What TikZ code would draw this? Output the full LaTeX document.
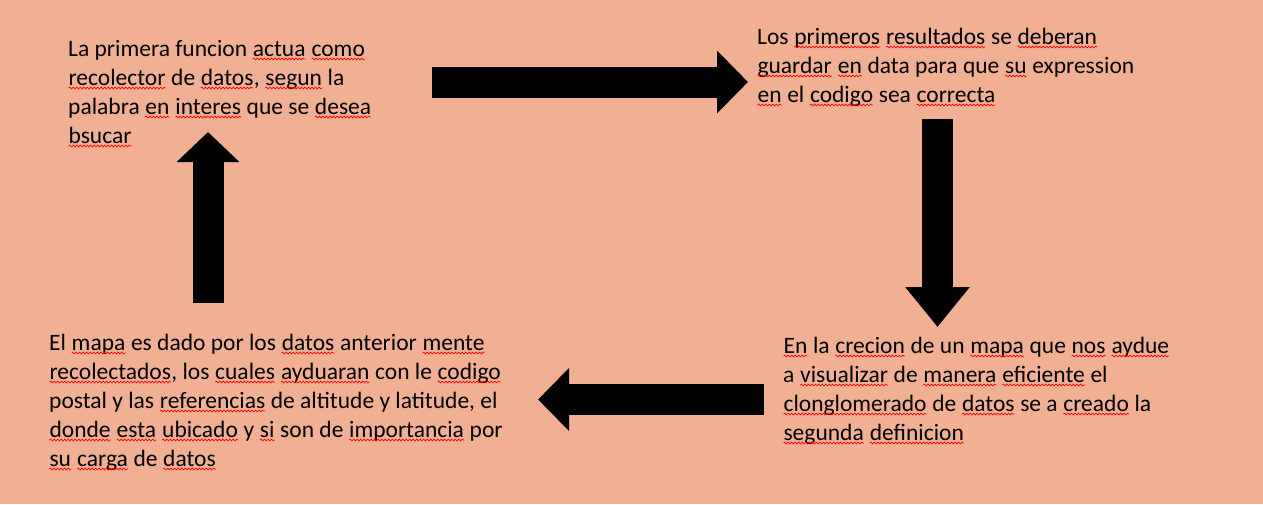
\documentclass[tikz,border=0pt]{standalone}
\usepackage{fontspec}
\setmainfont{Carlito}
\usetikzlibrary{arrows.meta,decorations.pathmorphing}
\definecolor{salmon}{RGB}{241,176,148}
% palabra marcada por el corrector
\newcommand\spellw[1]{\tikz[baseline=(w.base)]{\node[inner sep=0pt,outer sep=0pt] (w) {#1};
\draw[red,line width=0.7pt,decorate,decoration={snake,amplitude=0.9pt,segment length=3.5pt}] ([yshift=-3pt]w.base west) -- ([yshift=-3pt]w.base east);}}

\begin{document}
\begin{tikzpicture}[x=1pt,y=-1pt,every text node part/.style={align=left},
textblock/.style={anchor=base west,inner sep=0pt,font=\fontsize{23.5}{29}\selectfont},
blockarrow/.style={line width=31pt,-{Triangle[length=31pt,width=61pt]}}]
\useasboundingbox (0,0) rectangle (1263,504);
\fill [salmon] (0,0) rectangle (1263,504);
% los nodos se colocan por la base de su ultima linea
\node [textblock] (recolector) at (68,143) {La primera funcion \spellw{actua} \spellw{como}\\\spellw{recolector} de \spellw{datos}, \spellw{segun} la\\palabra \spellw{en} \spellw{interes} que se \spellw{desea}\\\spellw{bsucar}};
\node [textblock] (resultados) at (757,102) {Los \spellw{primeros} \spellw{resultados} se \spellw{deberan}\\\spellw{guardar} \spellw{en} data para que \spellw{su} expression\\\spellw{en} el \spellw{codigo} sea \spellw{correcta}};
\node [textblock] (creacion) at (783,440) {\spellw{En} la \spellw{crecion} de un \spellw{mapa} que \spellw{nos} \spellw{aydue}\\a \spellw{visualizar} de \spellw{manera} \spellw{eficiente} el\\\spellw{clonglomerado} de \spellw{datos} se a \spellw{creado} la\\\spellw{segunda} \spellw{definicion}};
\node [textblock] (mapa) at (49,466) {El \spellw{mapa} es dado por los \spellw{datos} anterior \spellw{mente}\\\spellw{recolectados}, los \spellw{cuales} \spellw{ayduaran} con le \spellw{codigo}\\postal y las \spellw{referencias} de altitude y latitude, el\\\spellw{donde} \spellw{esta} \spellw{ubicado} y \spellw{si} son de \spellw{importancia} por\\\spellw{su} \spellw{carga} de \spellw{datos}};
% flechas del ciclo
\coordinate (a1s) at (432,82);   \coordinate (a1e) at (748,82);
\coordinate (a2s) at (937.5,119); \coordinate (a2e) at (937.5,327);
\coordinate (a3s) at (764,399.5); \coordinate (a3e) at (538,399.5);
\coordinate (a4s) at (208,303);  \coordinate (a4e) at (208,132);
\draw [blockarrow] (a1s) -- (a1e);
\draw [blockarrow,-{Triangle[length=40pt,width=62pt]}] (a2s) -- (a2e);
\draw [blockarrow] (a3s) -- (a3e);
\draw [blockarrow,-{Triangle[length=30pt,width=61pt]}] (a4s) -- (a4e);
\end{tikzpicture}
\end{document}
